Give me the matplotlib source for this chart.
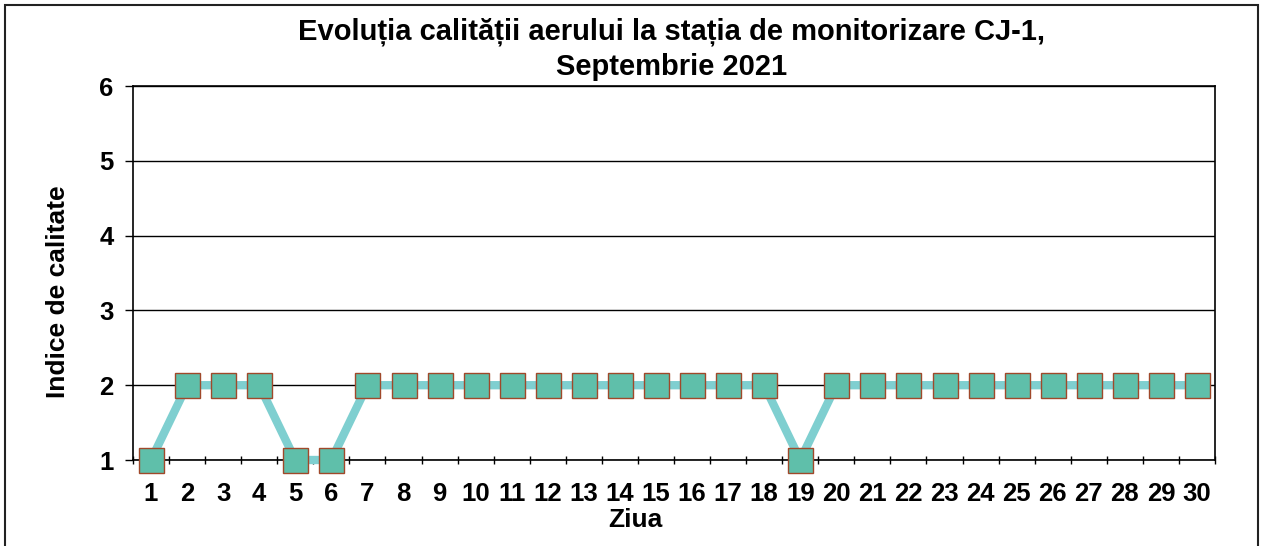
import matplotlib.pyplot as plt
from matplotlib.patches import Rectangle
from matplotlib.ticker import FixedLocator

zile = list(range(1, 31))
indice = [1, 2, 2, 2, 1, 1, 2, 2, 2, 2, 2, 2, 2, 2, 2, 2, 2, 2, 1,
          2, 2, 2, 2, 2, 2, 2, 2, 2, 2, 2]
y_ticks = [1, 2, 3, 4, 5, 6]

plt.rcParams['font.family'] = ['Liberation Sans', 'DejaVu Sans']

W, H = 1265, 546
fig = plt.figure(figsize=(W / 100, H / 100), dpi=100)
ax = fig.add_axes([133 / W, 1 - 460 / H, (1215 - 133) / W, (460 - 86) / H])

# outer frame
fig.patches.append(Rectangle((5 / W, -0.01), (1258 - 5) / W, 1 - 5 / H + 0.01,
                             transform=fig.transFigure, fill=False,
                             edgecolor='#222222', linewidth=1.5))

ax.plot(zile, indice, color='#7fcfd0', linewidth=6, marker='s', markersize=18,
        markerfacecolor='#5fbfaa', markeredgecolor='#a0482a', markeredgewidth=1.0,
        clip_on=False, zorder=3)

ax.set_xlim(0.5, 30.5)
ax.set_ylim(1, 6)
ax.set_yticks(y_ticks)
ax.yaxis.grid(True, color='black', linewidth=1)
ax.set_xticks(zile)
ax.xaxis.set_minor_locator(FixedLocator([i + 0.5 for i in range(0, 31)]))
ax.tick_params(axis='x', which='major', length=0, pad=16, labelsize=18.5)
ax.tick_params(axis='x', which='minor', length=6, width=1, direction='inout')
ax.tick_params(axis='y', length=6, width=1, pad=8, labelsize=18.5)
for lbl in ax.get_xticklabels() + ax.get_yticklabels():
    lbl.set_fontweight('bold')

for s in ax.spines.values():
    s.set_color('black')
    s.set_linewidth(1.2)

fig.text(635 / W, 1 - 520 / H, 'Ziua', fontsize=19, fontweight='bold',
         ha='center', va='center')
fig.text(58 / W, 1 - 292 / H, 'Indice de calitate', fontsize=19, fontweight='bold',
         rotation=90, ha='center', va='center')
fig.text(672 / W, 1 - 40 / H, 'Evoluția calității aerului la stația de monitorizare CJ-1,',
         fontsize=21, fontweight='bold', ha='center', va='baseline')
fig.text(672 / W, 1 - 75 / H, 'Septembrie 2021',
         fontsize=21, fontweight='bold', ha='center', va='baseline')

fig.savefig('out.png', dpi=100)
